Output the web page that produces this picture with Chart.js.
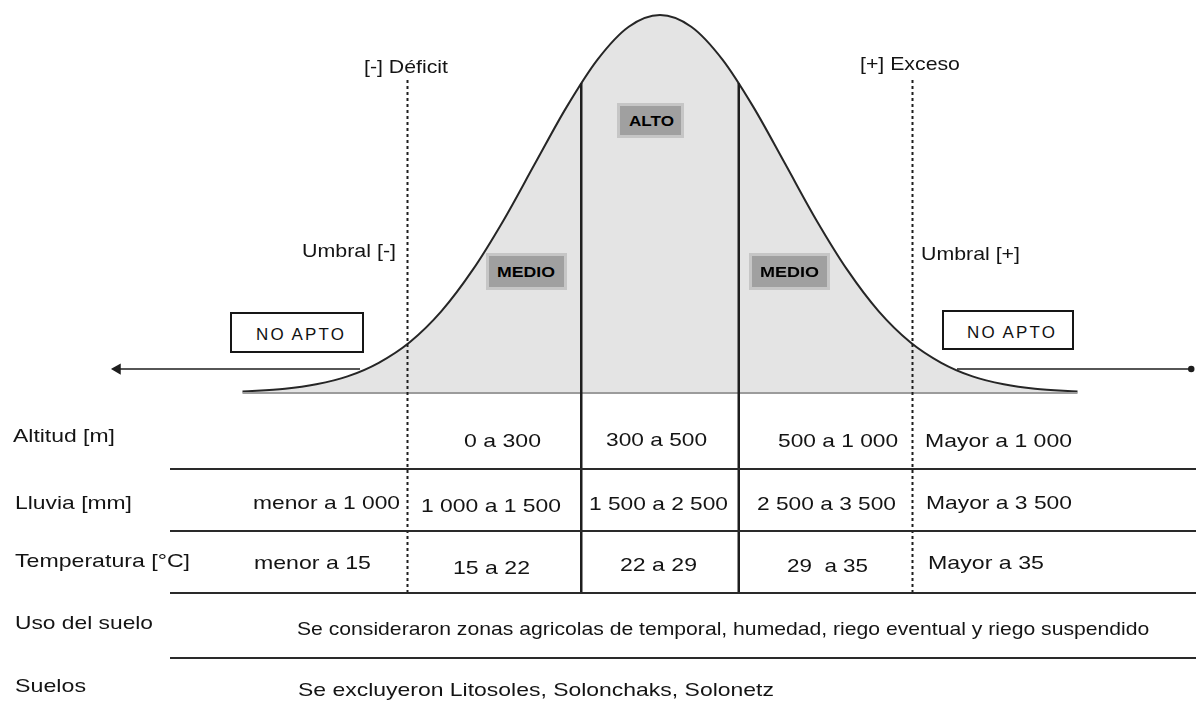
<!DOCTYPE html>
<html>
<head>
<meta charset="utf-8">
<script src="https://cdn.jsdelivr.net/npm/chart.js@4.4.1/dist/chart.umd.min.js"></script>
<style>
html, body { margin: 0; padding: 0; background: #fff; }
#wrap { position: relative; width: 1196px; height: 717px; overflow: hidden; font-family: "Liberation Sans", Arial, sans-serif; color: #141414; }
#chart { position: absolute; left: 0; top: 0; }
.t { position: absolute; white-space: pre; transform-origin: 0 0; line-height: 1; }
.rule { position: absolute; height: 2px; background: #2a2a2a; }
.box { position: absolute; box-sizing: border-box; }
.apto { border: 2px solid #161616; background: #fff; }
.zona { background: #a0a0a0; border: 3px solid #c6c6c6; }
</style>
</head>
<body>
<div id="wrap"><canvas id="chart" width="1196" height="717"></canvas></div>
<script>
// curve: position (in sigma units) and height (% of peak)
const zPos = [-3.34, -3.0, -2.75, -2.5, -2.25, -2.0, -1.75, -1.5, -1.25, -1.0, -0.75, -0.5, -0.25, 0,
  0.25, 0.5, 0.75, 1.0, 1.25, 1.5, 1.75, 2.0, 2.25, 2.5, 2.75, 3.0, 3.34];
const density = [0.4, 1.1, 2.3, 4.4, 8.0, 13.5, 21.6, 32.5, 45.8, 60.7, 75.5, 88.2, 96.9, 100,
  96.9, 88.2, 75.5, 60.7, 45.8, 32.5, 21.6, 13.5, 8.0, 4.4, 2.3, 1.1, 0.4];

// limits between classes
const umbrales = [-2.02, 2.02];      // dotted: deficit / exceso
const altoLimits = [-0.63, 0.63];    // solid: ALTO band
const altoTop = 82;                   // curve height where solid lines start

const zoneLabels = ['NO APTO', 'MEDIO', 'ALTO', 'MEDIO', 'NO APTO'];
const markerLabels = ['[-] Déficit', '[+] Exceso', 'Umbral [-]', 'Umbral [+]'];

const rowLabels = ['Altitud [m]', 'Lluvia [mm]', 'Temperatura [°C]', 'Uso del suelo', 'Suelos'];
const altitud = ['0 a 300', '300 a 500', '500 a 1 000', 'Mayor a 1 000'];
const lluvia = ['menor a 1 000', '1 000 a 1 500', '1 500 a 2 500', '2 500 a 3 500', 'Mayor a 3 500'];
const temperatura = ['menor a 15', '15 a 22', '22 a 29', '29  a 35', 'Mayor a 35'];
const usoSuelo = 'Se consideraron zonas agricolas de temporal, humedad, riego eventual y riego suspendido';
const suelos = 'Se excluyeron Litosoles, Solonchaks, Solonetz';

// ---- chart ----
const lineBottom = -52.9;
const lineTopDotted = 82.8;
const arrowY = 6.35;

const vLine = (x, top, dash, w) => ({
  data: [{ x: x, y: top }, { x: x, y: lineBottom }],
  borderColor: '#1e1e1e', borderWidth: w, borderDash: dash,
  pointRadius: 0, fill: false, order: 1,
});

const datasets = [
  {
    data: zPos.map((z, i) => ({ x: z, y: density[i] })),
    borderColor: '#262626', borderWidth: 2,
    backgroundColor: '#e4e4e4', fill: 'origin',
    pointRadius: 0, cubicInterpolationMode: 'monotone', order: 3,
  },
  {
    data: [{ x: zPos[0], y: 0 }, { x: zPos[zPos.length - 1], y: 0 }],
    borderColor: '#9c9c9c', borderWidth: 2, pointRadius: 0, fill: false, order: 2,
  },
  vLine(umbrales[0], lineTopDotted, [3, 3], 2),
  vLine(umbrales[1], lineTopDotted, [3, 3], 2),
  vLine(altoLimits[0], altoTop, [], 2.5),
  vLine(altoLimits[1], altoTop, [], 2.5),
  {
    data: [{ x: -4.34, y: arrowY }, { x: -2.4, y: arrowY }],
    borderColor: '#1e1e1e', backgroundColor: '#1e1e1e', borderWidth: 1.5,
    pointStyle: 'triangle', pointRadius: [5, 0], pointRotation: [-90, 0], fill: false, order: 1,
  },
  {
    data: [{ x: 2.376, y: arrowY }, { x: 4.25, y: arrowY }],
    borderColor: '#1e1e1e', backgroundColor: '#1e1e1e', borderWidth: 1.5,
    pointStyle: 'circle', pointRadius: [0, 2.5], fill: false, order: 1,
  },
];

new Chart(document.getElementById('chart'), {
  type: 'line',
  data: { datasets: datasets },
  options: {
    responsive: false,
    animation: false,
    events: [],
    layout: { padding: 0, autoPadding: false },
    plugins: { legend: { display: false }, tooltip: { enabled: false } },
    scales: {
      x: { type: 'linear', min: -5.28, max: 4.288, display: false },
      y: { min: -85.71, max: 103.97, display: false },
    },
  },
});

// ---- overlay: boxes, rules, text ----
const wrap = document.getElementById('wrap');

function addBox(cls, x, y, w, h) {
  const d = document.createElement('div');
  d.className = 'box ' + cls;
  Object.assign(d.style, { left: x + 'px', top: y + 'px', width: w + 'px', height: h + 'px' });
  wrap.appendChild(d);
}

function addRule(y) {
  const d = document.createElement('div');
  d.className = 'rule';
  Object.assign(d.style, { left: '170px', width: '1026px', top: (y - 1) + 'px' });
  wrap.appendChild(d);
}

// text fitted between x0 and x1, yc = vertical centre of the glyphs
function addText(txt, x0, x1, yc, size, extra) {
  const s = document.createElement('div');
  s.className = 't';
  s.textContent = txt;
  s.style.fontSize = size + 'px';
  s.style.left = x0 + 'px';
  s.style.top = (yc - 0.49 * size) + 'px';
  Object.assign(s.style, extra || {});
  wrap.appendChild(s);
  const w = s.getBoundingClientRect().width;
  s.style.transform = 'scaleX(' + ((x1 - x0) / w).toFixed(3) + ')';
}

addBox('apto', 230, 312, 134, 41);
addBox('apto', 942, 310, 132, 40);
addBox('zona', 486, 253, 81, 37);
addBox('zona', 617, 103, 67, 35);
addBox('zona', 749, 253, 81, 37);

[469, 531, 593, 658].forEach(addRule);

const bold = { fontWeight: '900', color: '#000' };
const spaced = { letterSpacing: '2px', color: '#111' };
const zoneBoxes = [
  [256, 346, 335, 16, spaced], [497, 555, 272, 14, bold], [629, 674, 121, 14, bold],
  [760, 819, 272, 14, bold], [967, 1057, 333, 16, spaced],
];
zoneLabels.forEach((t, i) => { const b = zoneBoxes[i]; addText(t, b[0], b[1], b[2], b[3], b[4]); });

const markerPos = [[364, 448, 66], [860, 960, 63], [302, 396, 250], [921, 1020, 253]];
markerLabels.forEach((t, i) => addText(t, markerPos[i][0], markerPos[i][1], markerPos[i][2], 19));

const rowPos = [[13, 115, 435], [15, 132, 502], [15, 190, 560], [15, 153, 622], [15, 86, 685]];
rowLabels.forEach((t, i) => addText(t, rowPos[i][0], rowPos[i][1], rowPos[i][2], 19));

const altPos = [[464, 541, 440], [606, 707, 439], [778, 898, 440], [925, 1072, 440]];
altitud.forEach((t, i) => addText(t, altPos[i][0], altPos[i][1], altPos[i][2], 19));

const lluPos = [[253, 400, 502], [421, 561, 505], [589, 728, 503], [757, 896, 503], [926, 1072, 502]];
lluvia.forEach((t, i) => addText(t, lluPos[i][0], lluPos[i][1], lluPos[i][2], 19));

const tempPos = [[254, 371, 562], [453, 530, 567], [620, 697, 564], [787, 868, 565], [928, 1044, 562]];
temperatura.forEach((t, i) => addText(t, tempPos[i][0], tempPos[i][1], tempPos[i][2], 19));

addText(usoSuelo, 297, 1149, 628, 19);
addText(suelos, 298, 774, 689, 19);
</script>
</body>
</html>
